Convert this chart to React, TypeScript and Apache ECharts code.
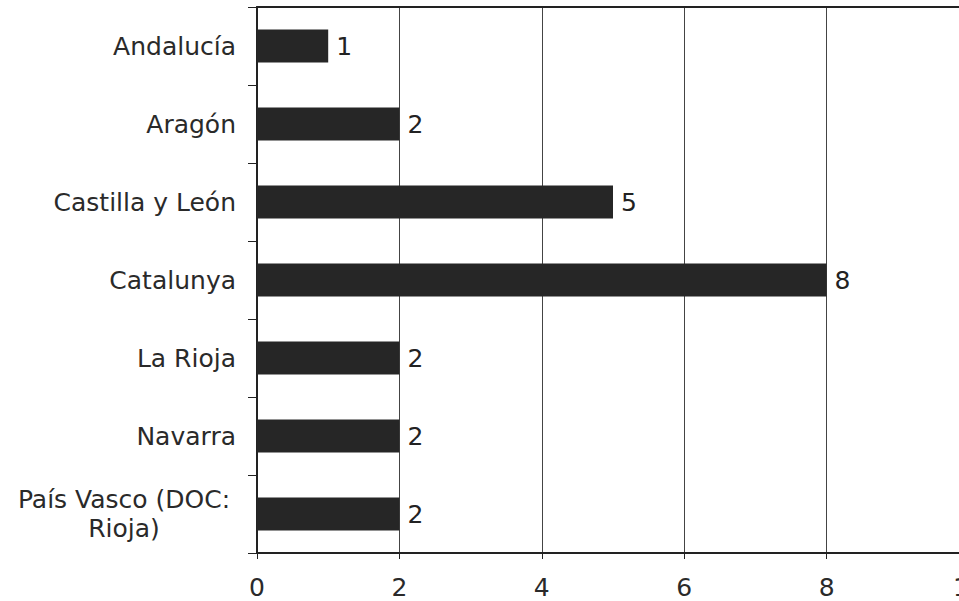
import React, { useEffect, useRef } from "react";
import * as echarts from "echarts";

const regions = [
  "Andalucía",
  "Aragón",
  "Castilla y León",
  "Catalunya",
  "La Rioja",
  "Navarra",
  "País Vasco (DOC:\nRioja)",
];
const counts = [1, 2, 5, 8, 2, 2, 2];
const xTicks = [0, 2, 4, 6, 8, 10];

const FONT = "'DejaVu Sans', Verdana, sans-serif";
const INK = "#262626";

export default function App() {
  const ref = useRef<HTMLDivElement>(null);

  useEffect(() => {
    document.body.style.margin = "0";
    const chart = echarts.init(ref.current!, null, { renderer: "svg" });
    chart.setOption({
      animation: false,
      backgroundColor: "#ffffff",
      grid: {
        left: 257,
        top: 7,
        bottom: 48,
        right: -10,
        containLabel: false,
        outerBoundsMode: "none",
      },
      xAxis: [
        {
          type: "value",
          min: xTicks[0],
          max: xTicks[xTicks.length - 1],
          interval: 2,
          axisLine: { show: true, onZero: false, lineStyle: { color: "#222", width: 2 } },
          axisTick: { show: true, length: 6, lineStyle: { color: "#222", width: 1 } },
          axisLabel: {
            margin: 20,
            color: "#2a2a2a",
            fontFamily: FONT,
            fontSize: 25,
            lineHeight: 29,
            showMaxLabel: true,
            hideOverlap: false,
          },
          splitLine: { show: true, lineStyle: { color: "#444", width: 1 } },
        },
        {
          type: "value",
          position: "top",
          min: xTicks[0],
          max: xTicks[xTicks.length - 1],
          interval: 2,
          axisLine: { show: true, onZero: false, lineStyle: { color: "#222", width: 2 } },
          axisTick: { show: false },
          axisLabel: { show: false },
          splitLine: { show: false },
        },
      ],
      yAxis: {
        type: "category",
        data: regions,
        inverse: true,
        axisLine: { show: true, lineStyle: { color: "#222", width: 2 } },
        axisTick: { show: true, length: 9, lineStyle: { color: "#222", width: 1 } },
        axisLabel: {
          margin: 21,
          color: "#2a2a2a",
          fontFamily: FONT,
          fontSize: 25,
          lineHeight: 29,
          formatter: (v: string) =>
            v.includes("\n")
              ? v
                  .split("\n")
                  .map((line) => `{c|${line}}`)
                  .join("\n")
              : v,
          rich: {
            c: {
              width: 224,
              align: "center",
              fontFamily: FONT,
              fontSize: 25,
              lineHeight: 29,
              color: "#2a2a2a",
            },
          },
        },
      },
      series: [
        {
          type: "bar",
          data: counts,
          barWidth: 33,
          itemStyle: { color: INK },
          label: {
            show: true,
            position: "right",
            distance: 8,
            color: "#222",
            fontFamily: FONT,
            fontSize: 25,
          },
        },
      ],
    });
    return () => chart.dispose();
  }, []);

  return <div ref={ref} style={{ width: 959, height: 601 }} />;
}
